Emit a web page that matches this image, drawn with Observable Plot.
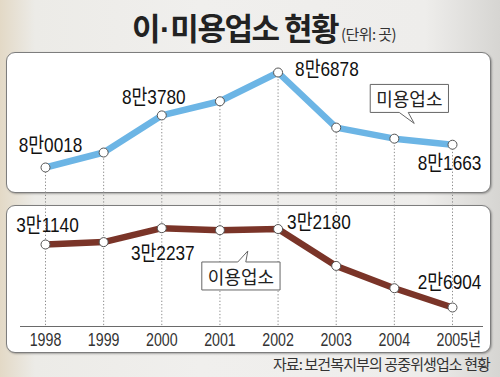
<!DOCTYPE html>
<html><head><meta charset="utf-8">
<script src="https://cdn.jsdelivr.net/npm/d3@7"></script>
<script src="https://cdn.jsdelivr.net/npm/@observablehq/plot@0.6"></script>
<style>
html,body{margin:0;padding:0;}
body{width:500px;height:377px;position:relative;overflow:hidden;
  background:linear-gradient(90deg,#e3d9c6 0%,#ecebe7 7%,#f0efed 40%,#eeedeb 85%,#d6d5d2 100%);
  font-family:"Liberation Sans","Noto Sans CJK KR",sans-serif;}
#title{position:absolute;left:132px;top:4px;white-space:nowrap;color:#222;}
#title .main{font-family:"Noto Sans CJK KR",sans-serif;font-weight:700;font-size:31px;letter-spacing:-1.5px;}
#title .dot{font-family:"Liberation Sans",sans-serif;font-weight:700;letter-spacing:0;margin:0 0 0 1px;}
#title .unit{font-family:"Noto Sans CJK KR",sans-serif;font-size:15px;letter-spacing:-0.6px;color:#333;margin-left:3px;}
.panel{position:absolute;left:6px;width:483px;background:#fff;border:1px solid #7d7d7d;border-radius:9px;box-shadow:1px 1px 2px rgba(0,0,0,.3);}
#p1{top:52px;height:139px;}
#p2{top:205px;height:146px;}
.chart{position:absolute;left:0;}
#c1{top:52px;}
#c2{top:205px;}
#caption{position:absolute;right:10px;top:353px;font-family:"Noto Sans CJK KR",sans-serif;font-size:15px;letter-spacing:-0.9px;color:#333;white-space:nowrap;}
</style></head>
<body>
<div id="title"><span class="main">이<span class="dot">·</span>미용업소 현황</span><span class="unit">(단위: 곳)</span></div>
<div class="panel" id="p1"></div>
<div class="panel" id="p2"></div>
<div class="chart" id="c1"></div>
<div class="chart" id="c2"></div>
<div id="caption">자료: 보건복지부의 공중위생업소 현황</div>
<script>
const years = [1998, 1999, 2000, 2001, 2002, 2003, 2004, 2005];
const beautyShops = [80018, 81100, 83780, 84800, 86878, 82900, 82100, 81663];
const barberShops = [31140, 31300, 32237, 32100, 32180, 29700, 28200, 26904];
const beautyLabels = ["8만0018", "", "8만3780", "", "8만6878", "", "", "8만1663"];
const barberLabels = ["3만1140", "", "3만2237", "", "3만2180", "", "", "2만6904"];
const seriesNames = ["미용업소", "이용업소"];
const yearSuffix = "년";

const topData = years.map((year, i) => ({year, value: beautyShops[i], label: beautyLabels[i]}));
const botData = years.map((year, i) => ({year, value: barberShops[i], label: barberLabels[i]}));

const numFont = {fontFamily: '"Liberation Sans","Noto Sans CJK KR",sans-serif', fontSize: 21, fill: "#111"};
const krFont = {fontFamily: '"Noto Sans CJK KR",sans-serif', fontSize: 18, fill: "#222"};
const tickFont = {fontFamily: '"Liberation Sans","Noto Sans CJK KR",sans-serif', fontSize: 18, fill: "#333"};
const xScale = {type: "linear", domain: [1998, 2005], range: [45, 452], axis: null};
const dotted = {stroke: "#8c8c8c", strokeWidth: 1, strokeDasharray: "1.3,2"};
const svgStyle = {background: "transparent", overflow: "hidden"};

function lab(data, year, opts) {
  return Plot.text(data.filter(d => d.year === year), {x: "year", y: "value", text: "label", ...numFont, ...opts});
}

const chart1 = Plot.plot({
  width: 500, height: 153, marginTop: 0, marginBottom: 0, marginLeft: 0, marginRight: 0,
  style: svgStyle,
  x: xScale,
  y: {domain: [80018, 86878], range: [115, 20], axis: null},
  marks: [
    Plot.ruleX(topData, {x: "year", y1: "value", ...dotted}),
    Plot.line(topData, {x: "year", y: "value", stroke: "#6cb5e5", strokeWidth: 6.5, strokeLinejoin: "round"}),
    Plot.dot(topData, {x: "year", y: "value", r: 4.5, fill: "#fff", stroke: "#555", strokeWidth: 1}),
    lab(topData, 1998, {dx: 5, dy: -22}),
    lab(topData, 2000, {dx: -8, dy: -18}),
    lab(topData, 2002, {dx: 17, dy: -3, textAnchor: "start"}),
    lab(topData, 2005, {dx: -3, dy: 19}),
    Plot.text(topData.filter(d => d.year === 2004), {x: "year", y: "value", text: () => seriesNames[0], dx: 15, dy: -38, ...krFont})
  ]
});

const chart2 = Plot.plot({
  width: 500, height: 146, marginTop: 0, marginBottom: 25, marginLeft: 20, marginRight: 18,
  style: svgStyle,
  x: xScale,
  y: {domain: [26904, 31140], range: [102, 39], axis: null},
  marks: [
    Plot.ruleX(years, {x: d => d, ...dotted}),
    Plot.frame({anchor: "bottom", stroke: "#6a6a6a", strokeWidth: 1}),
    Plot.text(years.slice(0, -1), {x: d => d, frameAnchor: "bottom", lineAnchor: "middle", dy: 14, text: d => String(d), ...tickFont}),
    Plot.text(years.slice(-1), {x: d => d, frameAnchor: "bottom", lineAnchor: "middle", dy: 14, dx: -16, textAnchor: "start",
      text: d => String(d) + yearSuffix, ...tickFont}),
    Plot.line(botData, {x: "year", y: "value", stroke: "#7a3428", strokeWidth: 6.5, strokeLinejoin: "round"}),
    Plot.dot(botData, {x: "year", y: "value", r: 4.5, fill: "#fff", stroke: "#555", strokeWidth: 1}),
    lab(botData, 1998, {dx: 2, dy: -19}),
    lab(botData, 2000, {dx: 1, dy: 25}),
    lab(botData, 2002, {dx: 9, dy: -7, textAnchor: "start"}),
    lab(botData, 2005, {dx: -3, dy: -25}),
    Plot.text(botData.filter(d => d.year === 2001), {x: "year", y: "value", text: () => seriesNames[1], dx: 21, dy: 48, ...krFont})
  ]
});

document.getElementById("c1").appendChild(chart1);
document.getElementById("c2").appendChild(chart2);

// condense the digit labels horizontally, as in the reference's narrow typeface
function condense(svg) {
  d3.select(svg).selectAll("text").each(function() {
    const s = this.textContent;
    if (!/^\d/.test(s)) return;
    const isYear = /^\d{4}/.test(s);
    const w = this.getComputedTextLength();
    this.setAttribute("textLength", (w * (isYear ? 0.79 : 0.82)).toFixed(1));
    this.setAttribute("lengthAdjust", "spacingAndGlyphs");
  });
}
condense(chart1);
condense(chart2);

// speech-bubble boxes around the series name labels
function bubble(svg, name, tail) {
  const t = d3.select(svg).selectAll("text").filter(function() { return this.textContent === name; }).node();
  if (!t) return;
  const b = t.getBBox();
  const x0 = b.x - 6, x1 = b.x + b.width + 6, y0 = b.y - 1, y1 = b.y + b.height + 1;
  const a = x0 + tail.a, c = x0 + tail.c;
  let p;
  if (tail.side === "bottom") {
    p = `M${x0},${y0}H${x1}V${y1}H${c}L${c + tail.tx},${y1 + tail.ty}L${a},${y1}H${x0}Z`;
  } else {
    p = `M${x0},${y0}H${a}L${c + tail.tx},${y0 - tail.ty}L${c},${y0}H${x1}V${y1}H${x0}Z`;
  }
  const path = document.createElementNS("http://www.w3.org/2000/svg", "path");
  path.setAttribute("d", p);
  path.setAttribute("fill", "#fff");
  path.setAttribute("stroke", "#666");
  path.setAttribute("stroke-width", "1");
  const tr = t.getAttribute("transform");
  if (tr) path.setAttribute("transform", tr);
  t.parentNode.insertBefore(path, t);
}
bubble(chart1, seriesNames[0], {side: "bottom", a: 29, c: 38, tx: 6, ty: 11});
bubble(chart2, seriesNames[1], {side: "top", a: 36, c: 44, tx: 2, ty: 11});
</script>
</body></html>
